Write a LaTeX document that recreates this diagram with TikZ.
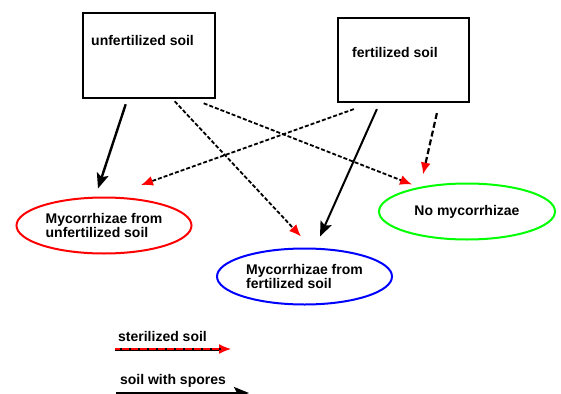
\documentclass[tikz,border=0pt]{standalone}
\usepackage{fontspec}
\setmainfont{Liberation Sans}
\usetikzlibrary{arrows.meta,shapes.geometric,calc}
\begin{document}
\begin{tikzpicture}[x=1pt,y=-1pt,
  txt/.style={font=\bfseries\fontsize{14}{14}\selectfont, inner sep=0pt},
  soilbox/.style={draw, line width=2.6pt, minimum width=#1, inner sep=0pt},
  oval/.style={ellipse, draw=#1, line width=2pt, minimum width=175pt, minimum height=56pt, inner sep=0pt, align=left, font=\bfseries\fontsize{14}{14}\selectfont},
  sterile/.style={line width=1.8pt, dash pattern=on 4pt off 2pt, -{Latex[length=12pt,width=10pt,red]}},
  spores/.style={line width=2.4pt, -{Stealth[length=15pt,width=12pt,inset=3pt]}}
]
\useasboundingbox (0,0) rectangle (561,393);
\clip (0,0) rectangle (561,393);
% boxes
\node[soilbox=132pt, minimum height=85pt] (b1) at (149,55.5) {};
\node[soilbox=131pt, minimum height=84pt, line width=2.2pt] (b2) at (403.5,60) {};
\node[txt, anchor=west] (t1) at (91,40) {unfertilized soil};
\node[txt, anchor=west] (t2) at (352,52) {fertilized soil};
% ellipses
\node[oval=red] (e1) at (104,225.5) {Mycorrhizae from\\unfertilized soil};
\node[oval=blue] (e2) at (304.5,276.5) {Mycorrhizae from\\fertilized soil};
\node[oval=green, minimum width=176pt] (e3) at (467,211.5) {No mycorrhizae};
% connectors
\draw[spores] ($(b1.south west)+(44,5)$) -- ($(e1.north)+(-6,-8)$);
\draw[spores, line width=2pt] ($(b2.south west)+(40,6)$) -- ($(e2.north)+(15.5,-11)$);
\draw[sterile] ($(b1.south west)+(93,2)$) -- ($(e2.north)+(-3.5,-11)$);
\draw[sterile] ($(b1.south west)+(122,4)$) -- ($(e3.north)+(-55,2)$);
\draw[sterile] ($(b2.south west)+(17,6)$) -- ($(e1.north)+(37,-11.5)$);
\draw[sterile, line width=2.2pt, dash pattern=on 6pt off 3pt] ($(b2.south west)+(100,10)$) -- ($(e3.north)+(-44,-8)$);
% legend
\node[txt] (l1) at (162.5,336) {sterilized soil};
\node[txt] (l2) at (173,381) {soil with spores};
\coordinate (l1a) at (115,349);
\coordinate (l1b) at (231,349);
\coordinate (l2a) at (116,393);
\coordinate (l2b) at (249,393);
\draw[line width=3pt, shorten >=10pt] (l1a) -- (l1b);
\draw[line width=1.4pt, red, -{Latex[length=12pt,width=10pt,red]}] (l1a) -- (l1b);
\draw[line width=1.4pt, black, dash pattern=on 2pt off 7pt, shorten >=10pt] ($(l1a)+(5,0)$) -- (l1b);
\draw[spores] (l2a) -- (l2b);
\end{tikzpicture}
\end{document}
